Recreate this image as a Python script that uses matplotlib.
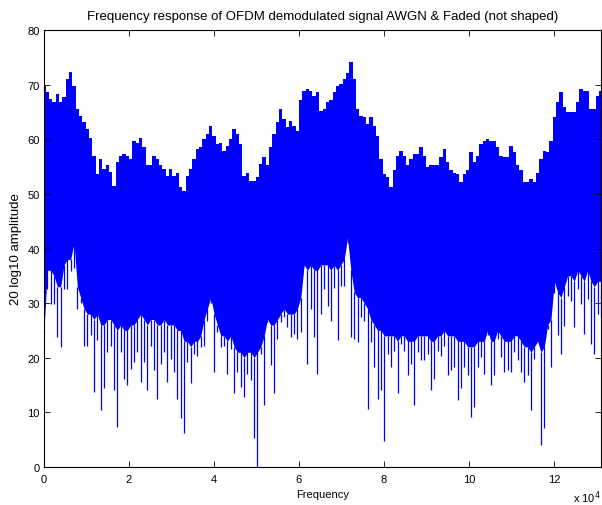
import matplotlib
matplotlib.use("Agg")
import matplotlib.pyplot as plt
import numpy as np

plt.rcParams['font.family'] = ['Liberation Sans', 'DejaVu Sans']

# number of FFT bins on the frequency axis
n_bins = 131072

# column-wise maximum of the magnitude (dB) left to right
upper_db = [69.8, 68.6, 67.4, 66.8, 68.3, 66.8, 67.7, 71.0, 72.4, 69.8,
            65.5, 64.3, 63.1, 61.9, 60.3, 57.0, 53.6, 56.4, 54.6, 55.2,
            54.0, 51.5, 55.8, 57.0, 57.3, 57.0, 56.4, 59.7, 59.4, 60.3,
            58.5, 55.2, 55.2, 57.0, 56.4, 55.2, 54.6, 53.3, 54.6, 53.3,
            53.9, 51.2, 50.6, 53.3, 54.6, 56.4, 58.2, 58.5, 60.0, 61.0,
            62.5, 60.6, 59.1, 59.4, 57.9, 58.8,
            60.0, 61.9, 61.0, 59.1, 53.3, 53.9, 52.4, 52.4, 53.0, 55.5,
            56.7, 55.2, 58.5, 61.0, 63.1, 65.6, 63.7, 62.2, 63.4, 62.5,
            61.6, 67.1, 68.9, 69.2, 68.9, 68.0, 68.6, 65.2, 65.5, 66.8,
            67.1, 68.6, 69.8, 70.1, 71.0, 72.2, 74.1, 71.0, 65.5, 64.3,
            64.0, 62.8, 64.0, 62.5, 60.6, 56.4, 53.6, 53.0, 51.2, 54.3,
            57.0, 57.9, 57.0, 55.2,
            56.4, 57.3, 57.3, 58.5, 57.0, 54.9, 55.2, 55.2, 55.2, 56.7,
            58.2, 55.8, 54.3, 53.9, 53.6, 52.1, 53.6, 54.3, 57.6, 55.8,
            57.0, 59.1, 59.7, 60.0, 59.7, 59.7, 58.5, 57.0, 56.7, 56.7,
            58.8, 57.6, 55.2, 54.3, 52.1, 52.1, 52.7, 52.1, 53.9, 56.4,
            57.9, 57.6, 59.7, 64.0, 66.8, 68.6, 65.9, 64.9, 64.9, 64.9,
            66.8, 69.2, 68.9, 68.9, 65.5, 65.5, 67.9, 68.9]

# level down to which the band is solid
floor_db = [25, 36, 36, 35, 33, 33, 37, 38, 38, 41, 33, 31, 29, 28, 28, 27,
            28, 26, 26, 27, 27, 26, 25, 26, 25, 25, 26, 26, 27, 28, 27, 26,
            27, 27, 26, 26, 27, 26, 26, 26, 25, 25,
            23, 23, 22, 23, 23, 24, 27, 29, 31, 28, 26, 24, 24, 23, 24, 22,
            21, 21, 20, 21, 21, 20, 21, 22, 24, 27, 26, 26, 27, 28, 29, 28,
            28, 28, 29, 31, 37, 36, 37, 36, 36, 37,
            37, 37, 36, 37, 36, 37, 38, 42, 36, 32, 31, 31, 30, 29, 27, 26,
            25, 25, 24, 24, 24, 24, 23, 24, 24, 23, 23, 23, 24, 24, 24, 24,
            23, 23, 24, 24, 25, 24, 24, 24, 23, 23,
            23, 22, 22, 22, 23, 23, 23, 25, 23, 23, 25, 24, 23, 23, 23, 24,
            24, 23, 22, 22, 21, 22, 23, 21, 22, 26, 27, 34, 32, 31, 33, 35,
            35, 34, 36, 35, 34, 36, 34, 33, 34, 34]

# column-wise minimum (deep fades)
lower_db = [24.7, 32.5, 29.8, 29.8, 23.8, 21.9, 32.5, 32.5, 35.9, 36.5,
            28.9, 30.1, 22.2, 22.2, 24.1, 13.8, 23.2, 10.4, 14.4, 21.0,
            22.2, 14.1, 7.4, 21.0, 16.2, 15.0, 18.0, 19.2, 21.0, 15.6,
            19.2, 14.1, 22.2, 17.7, 12.5, 18.9, 21.0, 15.6, 19.8, 17.4,
            12.5, 8.9,
            6.2, 19.2, 15.3, 20.7, 20.4, 21.9, 22.2, 26.8, 30.1, 17.4,
            24.7, 21.9, 22.2, 17.1, 21.6, 13.5, 17.4, 14.7, 12.8, 17.1,
            15.9, 5.3, 0.0, 20.7, 11.3, 26.5, 18.6, 13.5, 23.5, 26.5,
            27.4, 25.6, 23.8, 24.4, 23.5, 24.7, 37.4, 18.9, 28.9, 23.8,
            17.1, 28.0,
            32.5, 29.5, 26.8, 32.8, 23.2, 33.2, 33.2, 41.0, 23.8, 23.5,
            22.8, 27.4, 26.8, 10.7, 22.8, 18.3, 12.5, 14.1, 4.7, 20.7,
            18.3, 21.3, 13.5, 22.5, 21.3, 16.8, 18.9, 11.3, 21.0, 19.5,
            19.5, 20.7, 14.1, 16.2, 21.3, 20.4, 22.2, 16.8, 17.7, 18.3,
            12.2, 14.4,
            18.3, 16.8, 9.2, 11.0, 18.3, 20.1, 17.1, 24.1, 15.0, 16.8,
            23.5, 20.1, 17.4, 17.7, 17.4, 21.0, 19.5, 17.4, 15.6, 16.8,
            10.4, 19.8, 23.8, 4.1, 7.1, 25.3, 18.3, 31.9, 24.1, 20.7,
            25.9, 31.3, 30.4, 25.6, 32.5, 29.8, 24.4, 30.7, 22.5, 20.7,
            28.0, 27.4]

xtick_vals = [0, 2, 4, 6, 8, 10, 12]

freq = np.linspace(0, n_bins, len(upper_db))
band_split = 46  # where the stepped top part meets the ragged bottom part

fig = plt.figure(figsize=(6.02, 5.06), dpi=100)
ax = fig.add_axes([44/602, 38/506, 557/602, 437/506])

# top edge: stepped column maxima
ax.fill_between(freq, band_split, upper_db, step='mid', color='blue', lw=0)
# bottom edge: ragged solid part + thin fades
ax.fill_between(freq, floor_db, band_split + 1, color='blue', lw=0)
ax.vlines(freq, lower_db, floor_db, color='blue', lw=0.9)

ax.set_xlim(0, n_bins)
ax.set_ylim(0, 80)
ax.set_xticks([v*1e4 for v in xtick_vals])
ax.set_xticklabels([str(v) for v in xtick_vals])
ax.set_yticks(np.arange(0, 81, 10))
ax.tick_params(direction='in', length=4, width=0.6, labelsize=8,
               top=True, right=True, pad=3)
ax.tick_params(axis='x', pad=5)
for s in ax.spines.values():
    s.set_linewidth(0.8)

ax.set_title("Frequency response of OFDM demodulated signal AWGN & Faded (not shaped)",
             fontsize=9.5, pad=8)
ax.set_xlabel("Frequency", fontsize=8, labelpad=4)
ax.set_ylabel("20 log10 amplitude", fontsize=9.5, labelpad=4)
fig.text(573/602, 1 - 498/506, "x 10$^4$", fontsize=8, va='center', ha='left')

fig.savefig("out.png", dpi=100)
